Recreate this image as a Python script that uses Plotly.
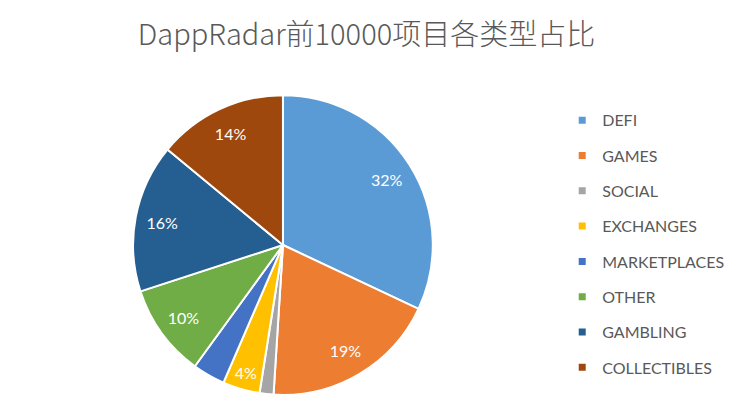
import plotly.graph_objects as go

categories = ["DEFI", "GAMES", "SOCIAL", "EXCHANGES", "MARKETPLACES", "OTHER", "GAMBLING", "COLLECTIBLES"]
shares = [32, 19, 1.5, 4, 3.5, 10, 16, 14]
colors = ["#5B9BD5", "#ED7D31", "#A5A5A5", "#FFC000", "#4472C4", "#70AD47", "#255E91", "#9E480E"]
title_text = "DappRadar前10000项目各类型占比"

slice_text = [f"{v:.0f}%" if v >= 4 else "" for v in shares]
pie_domain = dict(x=[0.181, 0.591], y=[0.025, 0.765])

fig = go.Figure()
# coloured slices
fig.add_trace(go.Pie(
    labels=categories,
    values=shares,
    textinfo="none",
    marker=dict(colors=colors, line=dict(color="white", width=2)),
    sort=False,
    direction="clockwise",
    showlegend=False,
    domain=pie_domain,
))
# transparent ring carrying the percentage labels (places them near the rim)
fig.add_trace(go.Pie(
    labels=categories,
    values=shares,
    hole=0.64,
    text=slice_text,
    textinfo="text",
    textposition="inside",
    insidetextorientation="horizontal",
    textfont=dict(family="Lato", size=16, color="white"),
    marker=dict(colors=["rgba(0,0,0,0)"] * len(shares), line=dict(width=0)),
    sort=False,
    direction="clockwise",
    showlegend=False,
    hoverinfo="skip",
    domain=pie_domain,
))

# legend entries (legend only, no data drawn)
for name, col in zip(categories, colors):
    fig.add_trace(go.Scatter(
        x=[None], y=[None], mode="markers", name=name,
        legendgroup=name,
        marker=dict(symbol="square", size=7, color=col),
        hoverinfo="skip",
    ))

fig.update_layout(
    width=733, height=405,
    margin=dict(l=0, r=0, t=0, b=0),
    paper_bgcolor="white", plot_bgcolor="white",
    title=dict(text=title_text, x=0.5, xanchor="center", y=0.915, yanchor="middle",
               font=dict(family="Noto Sans CJK SC", size=29, color="#595959", weight=300)),
    xaxis=dict(visible=False), yaxis=dict(visible=False),
    legend=dict(x=0.767, xanchor="left", y=0.745, yanchor="top",
                font=dict(family="Lato", size=16, color="#595959"),
                tracegroupgap=11.5, itemwidth=30, bgcolor="rgba(0,0,0,0)"),
)

fig.write_html("out.html", config={"displayModeBar": False},
               post_script="document.body.style.margin='0';")
